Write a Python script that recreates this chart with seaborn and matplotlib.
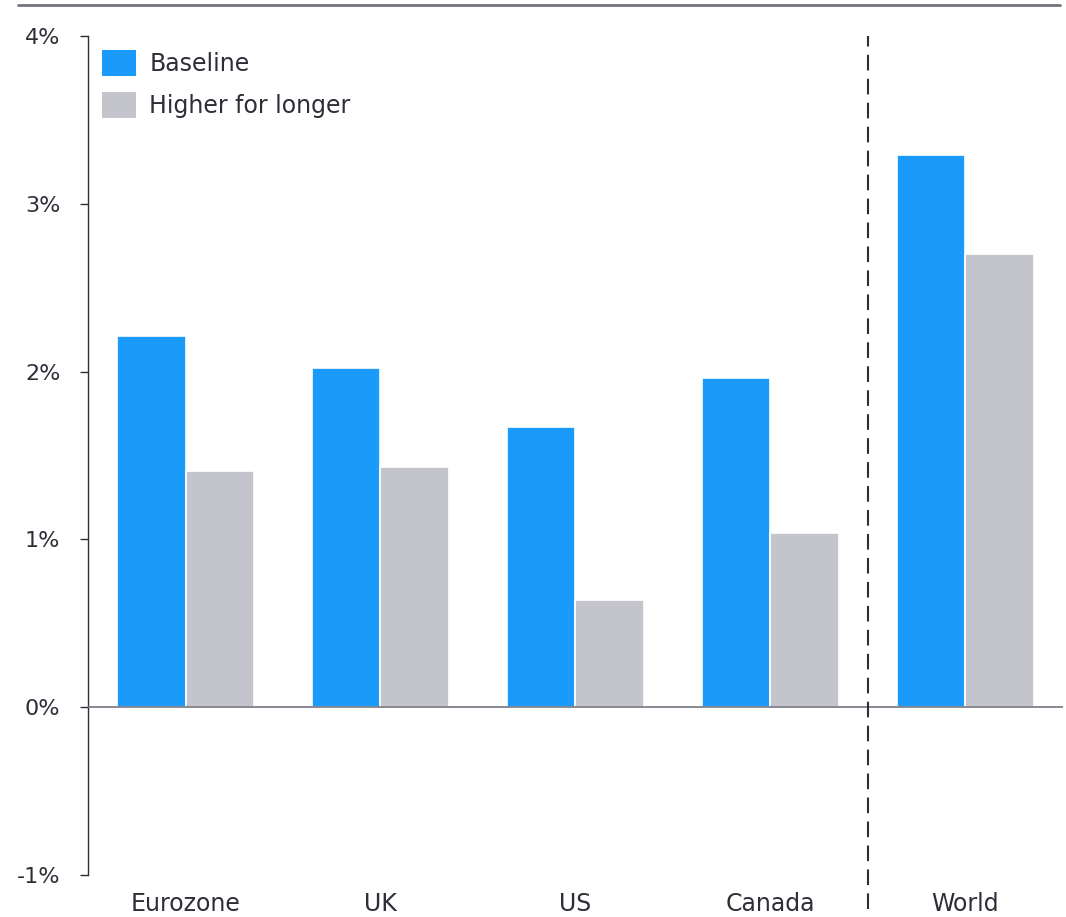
import matplotlib
matplotlib.use("Agg")
import matplotlib.pyplot as plt
from matplotlib.lines import Line2D
from matplotlib.patches import Patch
import seaborn as sns
import pandas as pd

regions = ["Eurozone", "UK", "US", "Canada", "World"]
baseline = [2.21, 2.02, 1.67, 1.96, 3.29]
higher_for_longer = [1.41, 1.43, 0.64, 1.04, 2.70]
scenarios = ["Baseline", "Higher for longer"]
y_ticks = [-1, 0, 1, 2, 3, 4]
y_tick_labels = ["-1%", "0%", "1%", "2%", "3%", "4%"]

BLUE = "#1a9afa"
GREY = "#c4c4cd"
TEXT = "#2e2e38"
LINE = "#747480"

df = pd.DataFrame({
    "region": regions * 2,
    "scenario": [scenarios[0]] * len(regions) + [scenarios[1]] * len(regions),
    "value": baseline + higher_for_longer,
})

sns.set_style("white")
plt.rcParams["font.family"] = ["DejaVu Sans"]

fig = plt.figure(figsize=(10.66, 9.17), dpi=100)
ax = fig.add_axes([0.0826, 0.0458, 0.9144, 0.9149])

sns.barplot(data=df, x="region", y="value", hue="scenario", order=regions,
            hue_order=scenarios, palette=[BLUE, GREY], width=0.7,
            edgecolor="white", linewidth=1.2, saturation=1, ax=ax, legend=False)

ax.set_xlim(-0.5, 4.5)
ax.set_ylim(-1, 4)
ax.set_yticks(y_ticks)
ax.set_yticklabels(y_tick_labels)
ax.set_xlabel("")
ax.set_ylabel("")

for side in ["top", "right", "bottom"]:
    ax.spines[side].set_visible(False)
ax.spines["left"].set_color(TEXT)
ax.spines["left"].set_linewidth(1.0)

ax.tick_params(axis="y", which="both", left=True, length=6, width=1.0,
               color=TEXT, labelcolor=TEXT, labelsize=16, pad=14)
ax.tick_params(axis="x", bottom=False, labelcolor=TEXT, labelsize=17, pad=9)

# zero baseline
ax.axhline(0, color=LINE, linewidth=1.2, zorder=3)

# separator between countries and the world aggregate
ax.plot([3.5, 3.5], [-1.2, 4], color=TEXT, linewidth=1.5,
        linestyle=(0, (7.5, 4)), clip_on=False, zorder=4)

handles = [Patch(facecolor=BLUE, edgecolor="none"),
           Patch(facecolor=GREY, edgecolor="none")]
leg = ax.legend(handles, scenarios, loc="upper left", bbox_to_anchor=(0.0, 1.0),
                frameon=False, fontsize=17, handlelength=1.45, handleheight=1.3,
                handletextpad=0.55, labelspacing=0.68, borderaxespad=0.2,
                borderpad=0.4)
for t in leg.get_texts():
    t.set_color(TEXT)

# rule across the top of the figure
fig.add_artist(Line2D([0.017, 0.994], [0.995, 0.995], color=LINE,
                      linewidth=2, transform=fig.transFigure))

fig.savefig("out.png", dpi=100, facecolor="white")
